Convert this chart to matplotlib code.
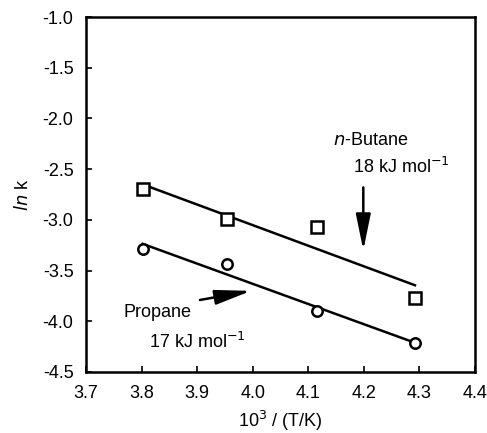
import numpy as np
import matplotlib
matplotlib.use("Agg")
import matplotlib.pyplot as plt

plt.rcParams['font.family'] = ['Liberation Sans', 'DejaVu Sans']

# 10^3/T for T = 263, 253, 243, 233 K
inv_T = [3.802, 3.953, 4.115, 4.292]
ln_k_butane = [-2.70, -2.995, -3.074, -3.768]
ln_k_propane = [-3.291, -3.439, -3.897, -4.218]

x_ticks = [3.7, 3.8, 3.9, 4.0, 4.1, 4.2, 4.3, 4.4]
y_ticks = [-1.0, -1.5, -2.0, -2.5, -3.0, -3.5, -4.0, -4.5]

fs = 13

fig = plt.figure(figsize=(4.87, 4.33), dpi=100)
ax = fig.add_axes([86 / 487, 1 - 372 / 433, 389 / 487, 355 / 433])

x = np.array(inv_T)
for y, mk, ms in [(ln_k_butane, 's', 8.5), (ln_k_propane, 'o', 7.5)]:
    p = np.polyfit(x, y, 1)
    ax.plot(x, np.polyval(p, x), color='black', lw=1.8, zorder=2)
    ax.plot(x, y, mk, ms=ms, mfc='white', mec='black', mew=1.8, zorder=3)

arrow = dict(arrowstyle='-|>,head_length=2.2,head_width=0.45',
             mutation_scale=10, color='black', lw=1.8, shrinkA=0, shrinkB=0)
ax.annotate('', xy=(4.199, -3.30), xytext=(4.199, -2.68), arrowprops=arrow)
ax.annotate('', xy=(3.997, -3.70), xytext=(3.905, -3.79), arrowprops=arrow)

ax.text(4.212, -2.213, r'$\it{n}$-Butane', ha='center', va='center', fontsize=fs)
ax.text(4.18, -2.48, r'18 kJ mol$^{-1}$', ha='left', va='center', fontsize=fs)
ax.text(3.767, -3.91, 'Propane', ha='left', va='center', fontsize=fs)
ax.text(3.813, -4.205, r'17 kJ mol$^{-1}$', ha='left', va='center', fontsize=fs)

ax.set_xlim(3.7, 4.4)
ax.set_ylim(-4.5, -1.0)
ax.set_xticks(x_ticks)
ax.set_yticks(y_ticks)
ax.set_xticklabels([f'{v:.1f}' for v in x_ticks])
ax.set_yticklabels([f'{v:.1f}' for v in y_ticks])
ax.tick_params(direction='in', length=4, width=1.2, labelsize=fs, pad=9)
for s in ax.spines.values():
    s.set_linewidth(1.8)

ax.set_xlabel(r'10$^3$ / (T/K)', fontsize=fs, labelpad=5)
ax.set_ylabel(r'$\it{ln}$ k', fontsize=fs, labelpad=8)

fig.savefig('out.png', dpi=100)
